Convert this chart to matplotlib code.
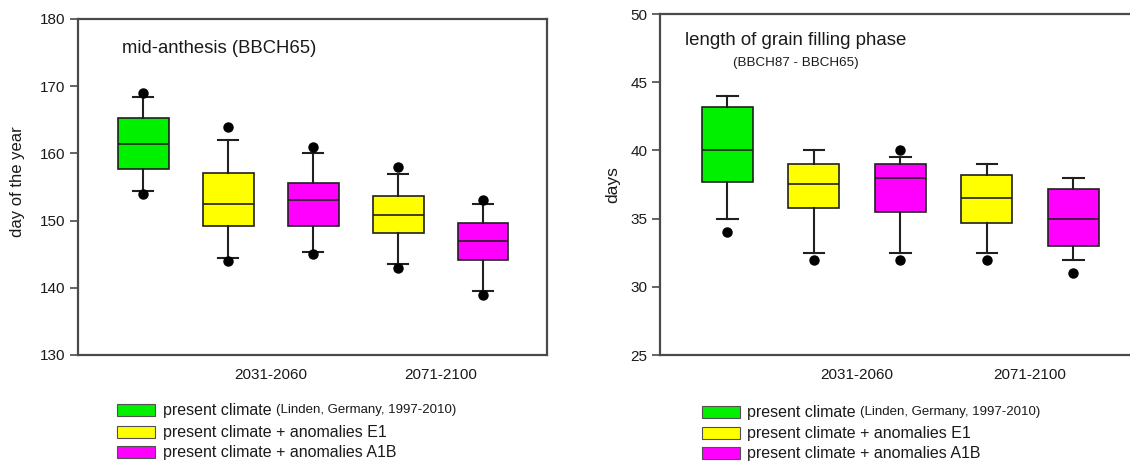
import matplotlib
matplotlib.use("Agg")
import matplotlib.pyplot as plt
from matplotlib.patches import Rectangle

plt.rcParams['font.family'] = ['Liberation Sans', 'DejaVu Sans']

# Scenario order along the x axis
scenarios = ['present', 'E1 2031-2060', 'A1B 2031-2060', 'E1 2071-2100', 'A1B 2071-2100']
box_colors = ['#00F000', '#FFFF00', '#FF00FF', '#FFFF00', '#FF00FF']
period_labels = ['2031-2060', '2071-2100']
period_ticks = [2.5, 4.5]

# Mid-anthesis (BBCH65), day of the year
anth_q1 = [157.7, 149.2, 149.2, 148.2, 144.2]
anth_med = [161.4, 152.4, 153.0, 150.9, 147.0]
anth_q3 = [165.2, 157.1, 155.6, 153.6, 149.7]
anth_lo = [154.4, 144.4, 145.4, 143.5, 139.5]
anth_hi = [168.4, 162.0, 160.0, 157.0, 152.4]
anth_out = [[169, 154], [164, 144], [161, 145], [158, 143], [153, 139]]

# Length of grain filling phase (BBCH87 - BBCH65), days
fill_q1 = [37.7, 35.8, 35.5, 34.7, 33.0]
fill_med = [40.0, 37.5, 38.0, 36.5, 35.0]
fill_q3 = [43.2, 39.0, 39.0, 38.2, 37.2]
fill_lo = [35.0, 32.5, 32.5, 32.5, 32.0]
fill_hi = [44.0, 40.0, 39.5, 39.0, 38.0]
fill_out = [[34], [32], [40, 32], [32], [31]]

legend_labels = ['present climate ', 'present climate + anomalies E1',
                 'present climate + anomalies A1B']
legend_colors = ['#00F000', '#FFFF00', '#FF00FF']
legend_note = '(Linden, Germany, 1997-2010)'

W, H = 1130, 465
fig = plt.figure(figsize=(W / 100, H / 100), dpi=100)
fig.patch.set_facecolor('white')

TXT = '#1a1a1a'
SPINE = '#4a4a4a'


def px_axes(x0, y0, x1, y1):
    return fig.add_axes([x0 / W, 1 - y1 / H, (x1 - x0) / W, (y1 - y0) / H])


def draw_panel(ax, q1, med, q3, lo, hi, out, width, capw):
    stats = []
    for name, a, m, b, l, h, f in zip(scenarios, q1, med, q3, lo, hi, out):
        stats.append(dict(label=name, q1=a, med=m, q3=b, whislo=l, whishi=h, fliers=f))
    bp = ax.bxp(stats, positions=range(1, len(stats) + 1), widths=width,
                patch_artist=True, capwidths=capw,
                boxprops=dict(edgecolor='#202020', linewidth=1.2),
                medianprops=dict(color='#202020', linewidth=1.2),
                whiskerprops=dict(color='#202020', linewidth=1.5),
                capprops=dict(color='#202020', linewidth=1.5),
                flierprops=dict(marker='o', markerfacecolor='black',
                                markeredgecolor='black', markersize=6.5))
    for patch, c in zip(bp['boxes'], box_colors):
        patch.set_facecolor(c)
    ax.set_xticks(period_ticks)
    ax.set_xticklabels(period_labels)
    ax.tick_params(axis='x', length=0, pad=9, labelsize=11, labelcolor=TXT)
    ax.tick_params(axis='y', length=6, width=1.2, color=SPINE, pad=3,
                   labelsize=11, labelcolor=TXT)
    for s in ax.spines.values():
        s.set_color(SPINE)
        s.set_linewidth(1.6)


# Left panel: mid-anthesis
ax1 = px_axes(78, 19, 547, 355)
draw_panel(ax1, anth_q1, anth_med, anth_q3, anth_lo, anth_hi, anth_out, 0.6, 0.24)
ax1.set_xlim(0.235, 5.753)
ax1.set_ylim(130, 180)
ax1.set_yticks(range(130, 181, 10))
ax1.set_ylabel('day of the year', fontsize=12, color=TXT)
ax1.yaxis.set_label_coords(-0.113, 0.515)
ax1.text(0.094, 0.911, 'mid-anthesis (BBCH65)', transform=ax1.transAxes,
         fontsize=13.3, color=TXT, ha='left', va='center')

# Right panel: grain filling duration (right edge runs past the figure)
ax2 = px_axes(660, 14, 1140, 355)
draw_panel(ax2, fill_q1, fill_med, fill_q3, fill_lo, fill_hi, fill_out, 0.59, 0.24)
ax2.set_xlim(0.22, 5.77)
ax2.set_ylim(25, 50)
ax2.set_yticks(range(25, 51, 5))
ax2.set_ylabel('days', fontsize=12.5, color=TXT)
ax2.yaxis.set_label_coords(-0.0833, 0.4985)
ax2.text(0.052, 0.922, 'length of grain filling phase', transform=ax2.transAxes,
         fontsize=13.4, color=TXT, ha='left', va='center')
ax2.text(0.152, 0.855, '(BBCH87 - BBCH65)', transform=ax2.transAxes,
         fontsize=9.6, color=TXT, ha='left', va='center')


def draw_legend(x_patch, rows_y, x_text):
    for y, lab, col in zip(rows_y, legend_labels, legend_colors):
        fig.patches.append(Rectangle((x_patch / W, 1 - (y + 6) / H), 38 / W, 12 / H,
                                     transform=fig.transFigure, facecolor=col,
                                     edgecolor='#505050', linewidth=0.8))
        t = fig.text(x_text / W, 1 - y / H, lab, fontsize=11.5, color=TXT,
                     ha='left', va='center')
        if lab == legend_labels[0]:
            fig.add_artist(plt.Annotation(legend_note, xy=(1, 0.5), xycoords=t,
                                          fontsize=9.5, color=TXT,
                                          ha='left', va='center'))


draw_legend(117, [410, 432, 452], 163)
draw_legend(702, [412, 433, 453], 747)

fig.savefig('out.png', dpi=100, facecolor='white')
